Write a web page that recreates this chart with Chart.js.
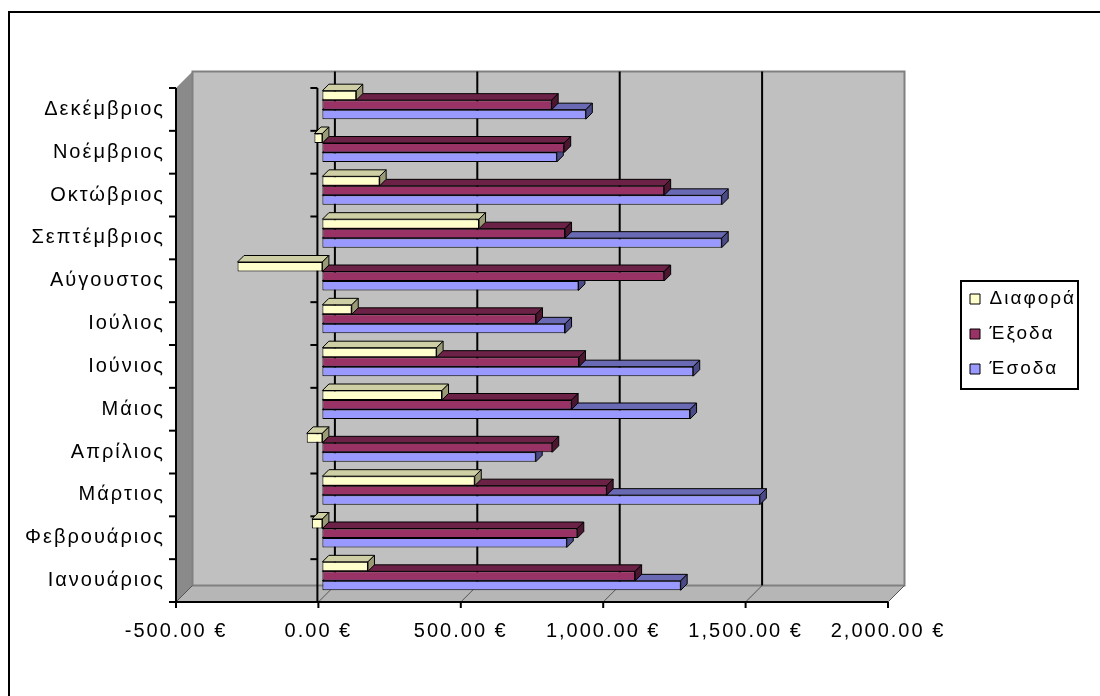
<!DOCTYPE html>
<html>
<head>
<meta charset="utf-8">
<script src="https://cdn.jsdelivr.net/npm/chart.js@4.4.0/dist/chart.umd.min.js"></script>
<style>
  body { margin: 0; background: #fff; }
  canvas { display: block; }
</style>
</head>
<body>
<canvas id="budgetChart" width="1100" height="696"></canvas>
<script>
// data
const months = ['Ιανουάριος', 'Φεβρουάριος', 'Μάρτιος', 'Απρίλιος', 'Μάιος', 'Ιούνιος',
                'Ιούλιος', 'Αύγουστος', 'Σεπτέμβριος', 'Οκτώβριος', 'Νοέμβριος', 'Δεκέμβριος'];
const income = [1258, 858, 1536, 749, 1291, 1302, 852, 899, 1402, 1402, 823, 925];
const expenses = [1098, 895, 998, 807, 875, 901, 750, 1200, 852, 1200, 849, 805];
const difference = [160, -37, 535, -55, 420, 401, 103, -298, 550, 201, -28, 119];
const xTicks = [-500, 0, 500, 1000, 1500, 2000];

const WALL = 16.5;          // depth of the back wall
const SHIFT_X = 4, SHIFT_Y = -4.5;  // bars sit a bit behind the front plane
const BAR_D = 6.5;          // bar depth

const faceColors = [
    { top: '#cfcfa5', side: '#9a9a76' },
    { top: '#6c2246', side: '#4c1631' },
    { top: '#6a6ab4', side: '#4a4a86' }
];

const SPACING = '2px';

function poly(ctx, pts) {
    ctx.beginPath();
    ctx.moveTo(pts[0][0], pts[0][1]);
    for (let i = 1; i < pts.length; i++) ctx.lineTo(pts[i][0], pts[i][1]);
    ctx.closePath();
}

function line(ctx, x1, y1, x2, y2) {
    ctx.beginPath();
    ctx.moveTo(x1, y1);
    ctx.lineTo(x2, y2);
    ctx.stroke();
}

const excel3d = {
    id: 'excel3d',
    beforeUpdate(chart) {
        chart.ctx.letterSpacing = SPACING;
        const lg = chart.legend;
        if (lg && !lg._fixedWidth) {
            const fit = lg.fit.bind(lg);
            lg.fit = function () { fit(); this.width = 212; };
            lg._fixedWidth = true;
        }
    },
    afterLayout(chart) {
        const lg = chart.legend;
        const pad = lg.options.labels.padding;
        const dx = 970 - (lg.left + pad);
        lg.left += dx; lg.right += dx;
        lg.top -= 58; lg.bottom -= 58;
    },
    beforeDraw(chart) {
        const ctx = chart.ctx;
        ctx.letterSpacing = SPACING;
        ctx.save();
        ctx.fillStyle = '#fff';
        ctx.fillRect(0, 0, chart.width, chart.height);
        ctx.strokeStyle = '#000';
        ctx.lineWidth = 2;
        ctx.strokeRect(9, 12, 1200, 800);
        ctx.restore();
    },
    beforeDatasetsDraw(chart) {
        const ctx = chart.ctx;
        const a = chart.chartArea;
        const xs = chart.scales.x;
        const D = WALL;
        ctx.save();
        ctx.lineWidth = 1;
        // left wall
        ctx.fillStyle = '#8a8a8a';
        poly(ctx, [[a.left, a.top], [a.left + D, a.top - D], [a.left + D, a.bottom - D], [a.left, a.bottom]]);
        ctx.fill();
        // floor
        ctx.fillStyle = '#b6b6b6';
        poly(ctx, [[a.left, a.bottom], [a.left + D, a.bottom - D], [a.right + D, a.bottom - D], [a.right, a.bottom]]);
        ctx.fill();
        ctx.strokeStyle = '#808080';
        ctx.stroke();
        // back wall
        ctx.fillStyle = '#c0c0c0';
        ctx.fillRect(a.left + D, a.top - D, a.right - a.left, a.bottom - a.top);
        ctx.strokeStyle = '#808080';
        ctx.lineWidth = 2;
        ctx.strokeRect(a.left + D, a.top - D, a.right - a.left, a.bottom - a.top);

        // grid lines on wall and floor
        xTicks.forEach(v => {
            const px = xs.getPixelForValue(v);
            ctx.strokeStyle = '#000';
            ctx.lineWidth = 2;
            if (v !== xTicks[0] && v !== xTicks[xTicks.length - 1]) {
                line(ctx, px + D, a.top - D, px + D, a.bottom - D);
            }
            ctx.lineWidth = 1;
            ctx.strokeStyle = '#555';
            line(ctx, px, a.bottom, px + D, a.bottom - D);
        });

        // axes on the front plane
        ctx.strokeStyle = '#000';
        ctx.lineWidth = 2;
        const zero = xs.getPixelForValue(0);
        line(ctx, a.left, a.top, a.left, a.bottom);
        line(ctx, zero - 1, a.top, zero - 1, a.bottom);
        line(ctx, a.left - 1, a.bottom, a.right, a.bottom);
        const n = months.length;
        for (let i = 0; i <= n; i++) {
            const py = a.top + i * (a.bottom - a.top) / n;
            line(ctx, a.left - 7, py, a.left, py);
            line(ctx, zero - 8, py, zero - 1, py);
        }
        xTicks.forEach(v => {
            const px = xs.getPixelForValue(v);
            line(ctx, px, a.bottom, px, a.bottom + 6);
        });
        ctx.restore();

        ctx.save();
        ctx.translate(SHIFT_X, SHIFT_Y);
    },
    afterDatasetDraw(chart, args) {
        const ctx = chart.ctx;
        const c = faceColors[args.index];
        const d = BAR_D;
        ctx.save();
        ctx.strokeStyle = '#000';
        ctx.lineWidth = 1;
        args.meta.data.forEach(el => {
            const p = el.getProps(['x', 'y', 'base', 'height'], true);
            const xl = Math.min(p.x, p.base), xr = Math.max(p.x, p.base);
            const yt = p.y - p.height / 2, yb = p.y + p.height / 2;
            ctx.fillStyle = c.top;
            poly(ctx, [[xl, yt], [xl + d, yt - d], [xr + d, yt - d], [xr, yt]]);
            ctx.fill(); ctx.stroke();
            ctx.fillStyle = c.side;
            poly(ctx, [[xr, yt], [xr + d, yt - d], [xr + d, yb - d], [xr, yb]]);
            ctx.fill(); ctx.stroke();
        });
        ctx.restore();
    },
    afterDatasetsDraw(chart) {
        chart.ctx.restore();
    },
    afterDraw(chart) {
        const ctx = chart.ctx;
        const boxes = chart.legend.legendHitBoxes;
        if (!boxes || !boxes.length) return;
        const first = boxes[0], last = boxes[boxes.length - 1];
        const midFirst = first.top + first.height / 2;
        const midLast = last.top + last.height / 2;
        ctx.save();
        ctx.strokeStyle = '#000';
        ctx.lineWidth = 2;
        const left = first.left - 9;
        ctx.strokeRect(left, midFirst - 18, 117, midLast + 20 - (midFirst - 18));
        ctx.restore();
    }
};

Chart.defaults.font.family = "'Liberation Sans', Arial, sans-serif";
Chart.defaults.font.size = 20;
Chart.defaults.color = '#000';

const ctx = document.getElementById('budgetChart').getContext('2d');
const budgetChart = new Chart(ctx, {
    type: 'bar',
    data: {
        labels: months,
        datasets: [
            {
                label: 'Διαφορά',
                data: difference,
                backgroundColor: '#ffffcc',
                borderColor: '#000',
                borderWidth: 1,
                borderSkipped: false
            },
            {
                label: 'Έξοδα',
                data: expenses,
                backgroundColor: '#993366',
                borderColor: '#000',
                borderWidth: 1,
                borderSkipped: false
            },
            {
                label: 'Έσοδα',
                data: income,
                backgroundColor: '#9999ff',
                borderColor: '#000',
                borderWidth: 1,
                borderSkipped: false
            }
        ]
    },
    options: {
        indexAxis: 'y',
        responsive: false,
        animation: false,
        categoryPercentage: 0.665,
        barPercentage: 1,
        layout: { padding: { top: 88, left: 0, right: 0, bottom: 0 } },
        scales: {
            x: {
                min: -500,
                max: 2000,
                grid: { display: false, drawTicks: false },
                border: { display: false },
                afterFit(scale) { scale.height = 94; },
                ticks: {
                    stepSize: 500,
                    padding: 17,
                    maxRotation: 0,
                    callback: v => v.toLocaleString('en-US', { minimumFractionDigits: 2, maximumFractionDigits: 2 }) + ' €'
                }
            },
            y: {
                reverse: true,
                grid: { display: false, drawTicks: false },
                border: { display: false },
                afterFit(scale) { scale.width = 176; },
                ticks: { padding: 11, autoSkip: false }
            }
        },
        plugins: {
            tooltip: { enabled: false },
            legend: {
                position: 'right',
                labels: {
                    boxWidth: 10,
                    boxHeight: 10,
                    padding: 16,
                    font: { size: 19 }
                }
            }
        }
    },
    plugins: [excel3d]
});
</script>
</body>
</html>
